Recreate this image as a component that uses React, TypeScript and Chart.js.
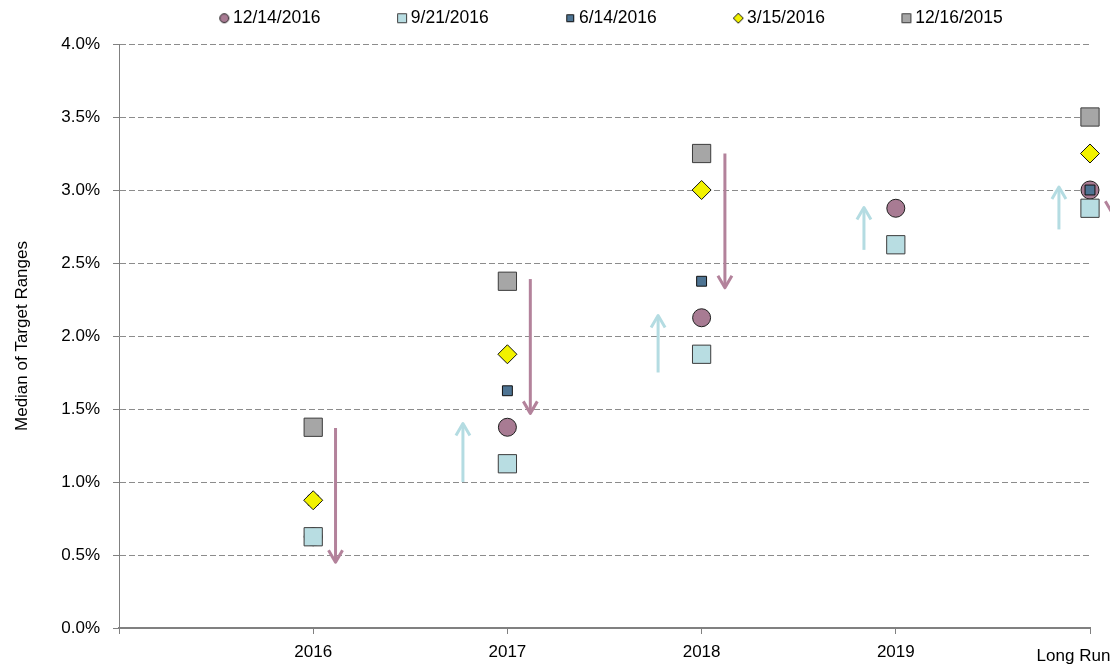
import React, { useEffect, useRef } from 'react';
import { Chart, registerables } from 'chart.js';

Chart.register(...registerables);

// ---- data ----
const categories = ['2016', '2017', '2018', '2019', 'Long Run'];
const yTickValues = [0, 0.5, 1, 1.5, 2, 2.5, 3, 3.5, 4];
const seriesLabels = ['12/14/2016', '9/21/2016', '6/14/2016', '3/15/2016', '12/16/2015'];
const dec2016 = [0.625, 1.375, 2.125, 2.875, 3.0];
const sep2016 = [0.625, 1.125, 1.875, 2.625, 2.875];
const jun2016 = [0.875, 1.625, 2.375, null, 3.0];
const mar2016 = [0.875, 1.875, 3.0, null, 3.25];
const dec2015 = [1.375, 2.375, 3.25, null, 3.5];

// arrows (x in category units, y in percent)
const downArrowX = [1.115, 2.118, 3.12, 5.115];
const downArrowFrom = [1.37, 2.39, 3.25, 3.76];
const downArrowTo = [0.45, 1.47, 2.33, 2.84];
const upArrowX = [1.771, 2.776, 3.836, 4.84];
const upArrowFrom = [1.0, 1.75, 2.59, 2.73];
const upArrowTo = [1.4, 2.14, 2.88, 3.02];

const FONT_FAMILY = "'Liberation Sans', Arial, sans-serif";
const FS = 17;
const LEGEND_FS = 17.5;

const MAUVE = '#a87b93';
const MAUVE_ARROW = '#b3829b';
const LIGHT_BLUE = '#b8dde2';
const LIGHT_BLUE_ARROW = '#b4dce2';
const STEEL = '#4e7493';
const YELLOW = '#f2f200';
const GRAY = '#a6a6a6';

type MarkerSpec = { style: string; radius: number; fill: string; stroke: string; legendSize: number };
const markerSpecs: MarkerSpec[] = [
  { style: 'circle', radius: 9, fill: MAUVE, stroke: '#1e1e1e', legendSize: 9 },
  { style: 'rect', radius: 12.9, fill: LIGHT_BLUE, stroke: '#3c3c3c', legendSize: 9 },
  { style: 'rect', radius: 7, fill: STEEL, stroke: '#111', legendSize: 7 },
  { style: 'rectRot', radius: 9.5, fill: YELLOW, stroke: '#111', legendSize: 10 },
  { style: 'rect', radius: 12.9, fill: GRAY, stroke: '#3c3c3c', legendSize: 9 },
];
const seriesValues = [dec2016, sep2016, jun2016, mar2016, dec2015];
const drawOrder = [5, 3, 4, 2, 1];

const CANVAS_W = 1155;
const PLOT_RIGHT = 1090;
const LEGEND_BOX = 72;
const LEGEND_PAD = 9.5;
const LEGEND_IMG_W = 86;
const LEGEND_OFFSET = LEGEND_BOX / 2;

function makeLegendMarker(spec: MarkerSpec): HTMLCanvasElement {
  const c = document.createElement('canvas');
  c.width = LEGEND_IMG_W;
  c.height = 20;
  const g = c.getContext('2d')!;
  const cx = LEGEND_IMG_W / 2 + LEGEND_OFFSET;
  const cy = 10;
  const s = spec.legendSize;
  g.fillStyle = spec.fill;
  g.strokeStyle = spec.stroke;
  g.lineWidth = 1;
  g.beginPath();
  if (spec.style === 'circle') {
    g.arc(cx, cy, s / 2, 0, Math.PI * 2);
  } else if (spec.style === 'rectRot') {
    g.moveTo(cx, cy - s / 2);
    g.lineTo(cx + s / 2, cy);
    g.lineTo(cx, cy + s / 2);
    g.lineTo(cx - s / 2, cy);
    g.closePath();
  } else {
    g.rect(cx - s / 2, cy - s / 2, s, s);
  }
  g.fill();
  g.stroke();
  return c;
}

const legendHeightPlugin = {
  id: 'legendHeight',
  beforeLayout(chart: any) {
    const lg = chart.legend;
    if (lg && !lg.__patched) {
      const orig = lg.fit.bind(lg);
      lg.fit = function () {
        orig();
        lg.height = 44;
      };
      lg.__patched = true;
    }
  },
};

const arrowPlugin = {
  id: 'fedArrows',
  afterDatasetsDraw(chart: any) {
    const { ctx } = chart;
    const xs = chart.scales.x;
    const ys = chart.scales.y;
    const drawSet = (px: number[], from: number[], to: number[], color: string) => {
      px.forEach((xv, i) => {
        const X = xs.getPixelForValue(xv);
        const Y0 = ys.getPixelForValue(from[i]);
        const Y1 = ys.getPixelForValue(to[i]);
        const dir = Y1 > Y0 ? 1 : -1;
        ctx.save();
        ctx.strokeStyle = color;
        ctx.lineWidth = 3;
        ctx.lineCap = 'butt';
        ctx.lineJoin = 'round';
        ctx.beginPath();
        ctx.moveTo(X, Y0);
        ctx.lineTo(X, Y1 - dir * 1);
        ctx.stroke();
        ctx.beginPath();
        ctx.moveTo(X - 7, Y1 - dir * 12);
        ctx.lineTo(X, Y1);
        ctx.lineTo(X + 7, Y1 - dir * 12);
        ctx.stroke();
        ctx.restore();
      });
    };
    drawSet(downArrowX, downArrowFrom, downArrowTo, MAUVE_ARROW);
    drawSet(upArrowX, upArrowFrom, upArrowTo, LIGHT_BLUE_ARROW);
  },
};

export default function App() {
  const ref = useRef<HTMLCanvasElement | null>(null);

  useEffect(() => {
    const prevMargin = document.body.style.margin;
    document.body.style.margin = '0';
    const legendMarkers = markerSpecs.map(makeLegendMarker);
    const font = { family: FONT_FAMILY, size: FS };
    const legendFont = { family: FONT_FAMILY, size: LEGEND_FS };
    const lastLabelFont = { family: FONT_FAMILY, size: FS, lineHeight: 1.65 };

    const datasets = seriesLabels.map((label, si) => ({
      label,
      data: seriesValues[si]
        .map((v, i) => (v == null ? null : { x: i + 1, y: v }))
        .filter((p) => p !== null),
      pointStyle: markerSpecs[si].style,
      pointRadius: markerSpecs[si].radius,
      pointHoverRadius: markerSpecs[si].radius,
      pointBackgroundColor: markerSpecs[si].fill,
      pointBorderColor: markerSpecs[si].stroke,
      pointBorderWidth: 1,
      backgroundColor: markerSpecs[si].fill,
      borderColor: markerSpecs[si].stroke,
      showLine: false,
      clip: false,
      order: drawOrder[si],
    }));

    const chart = new Chart(ref.current!, {
      type: 'scatter',
      data: { datasets: datasets as any },
      plugins: [legendHeightPlugin, arrowPlugin],
      options: {
        responsive: false,
        animation: false,
        events: [],
        layout: { padding: 0 },
        plugins: {
          tooltip: { enabled: false },
          legend: {
            position: 'top',
            labels: {
              usePointStyle: true,
              pointStyleWidth: LEGEND_BOX,
              boxHeight: 20,
              padding: LEGEND_PAD,
              color: '#000',
              font: legendFont,
              sort: (a: any, b: any) => a.datasetIndex - b.datasetIndex,
              generateLabels: (c: any) => {
                const items = (Chart.defaults.plugins.legend.labels as any).generateLabels(c);
                return items.map((it: any) => ({ ...it, pointStyle: legendMarkers[it.datasetIndex] }));
              },
            },
          },
        },
        scales: {
          x: {
            type: 'linear',
            position: 'bottom',
            min: 0,
            max: categories.length,
            afterBuildTicks: (s: any) => {
              s.ticks = [0, ...categories.map((_, i) => i + 1)].map((v) => ({ value: v }));
            },
            afterFit: (s: any) => {
              s.height = 41;
              s.paddingLeft = 0;
              s.paddingRight = 0;
            },
            ticks: {
              autoSkip: false,
              maxRotation: 0,
              padding: 8,
              color: '#000',
              font: (ctx: any) => (ctx.index === categories.length ? lastLabelFont : font),
              callback: (v: any) =>
                v >= 1 ? (v === categories.length ? categories[v - 1] + '       ' : categories[v - 1]) : '',
            },
            grid: {
              drawOnChartArea: false,
              tickLength: 6,
              color: '#808080',
              tickColor: '#808080',
            },
            border: { color: '#808080', width: 2 },
          },
          y: {
            position: 'left',
            min: 0,
            max: 4,
            afterBuildTicks: (s: any) => {
              s.ticks = yTickValues.map((v) => ({ value: v }));
            },
            afterFit: (s: any) => {
              s.width = 119;
            },
            ticks: {
              padding: 13,
              color: '#000',
              font,
              callback: (v: any) => Number(v).toFixed(1) + '%',
            },
            grid: {
              color: '#8c8c8c',
              lineWidth: 1,
              tickLength: 6,
              tickColor: '#808080',
            },
            border: { color: '#808080', width: 1, dash: [6, 3] },
            title: {
              display: true,
              text: 'Median of Target Ranges',
              color: '#000',
              font,
              padding: { top: 12, bottom: 0 },
            },
          },
          yRight: {
            position: 'right',
            display: true,
            min: 0,
            max: 4,
            grid: { display: false, drawTicks: false },
            border: { display: false },
            ticks: { display: false },
            afterFit: (s: any) => {
              s.width = CANVAS_W - PLOT_RIGHT;
            },
          },
        },
      } as any,
    });

    return () => {
      chart.destroy();
      document.body.style.margin = prevMargin;
    };
  }, []);

  return (
    <div
      style={{
        position: 'fixed',
        left: 0,
        top: 0,
        width: 1110,
        height: 669,
        overflow: 'hidden',
        background: '#ffffff',
      }}
    >
      <canvas ref={ref} width={CANVAS_W} height={669} style={{ display: 'block' }} />
    </div>
  );
}
